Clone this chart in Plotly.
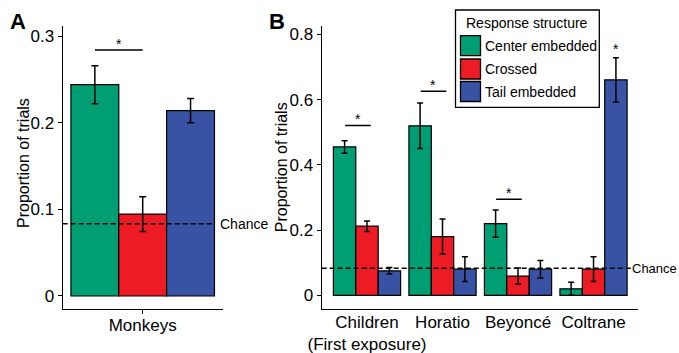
import plotly.graph_objects as go

W, H = 679, 353

# ---------------- data ----------------
series_names = ["Center embedded", "Crossed", "Tail embedded"]
series_colors = ["#009E73", "#ED1C24", "#3953A4"]

monkey_category = ["Monkeys"]
monkey_values = [0.244, 0.0946, 0.214]
monkey_errors = [0.022, 0.020, 0.014]

groups_b = ["Children<br>(First exposure)", "Horatio", "Beyoncé", "Coltrane"]
center_values = [0.455, 0.52, 0.22, 0.02]
center_errors = [0.019, 0.07, 0.042, 0.02]
crossed_values = [0.212, 0.18, 0.059, 0.08]
crossed_errors = [0.016, 0.054, 0.025, 0.038]
tail_values = [0.075, 0.08, 0.08, 0.661]
tail_errors = [0.010, 0.038, 0.027, 0.068]

chance_level = 1 / 12

yticks_a = [0, 0.1, 0.2, 0.3]
yticks_b = [0, 0.2, 0.4, 0.6, 0.8]

sig_a_height = 0.284
sig_b_groups = [0, 1, 2]
sig_b_heights = [0.521, 0.626, 0.295]
sig_star_coltrane = 0.7626

FONT = "Liberation Sans, Arial, sans-serif"

def px_x(p):
    return p / W

def px_y(p):
    return 1 - p / H

fig = go.Figure()

b_values = [center_values, crossed_values, tail_values]
b_errors = [center_errors, crossed_errors, tail_errors]

for i, name in enumerate(series_names):
    fig.add_trace(go.Bar(
        x=monkey_category, y=[monkey_values[i]], name=name,
        marker=dict(color=series_colors[i], line=dict(color="black", width=1.2)),
        error_y=dict(type="data", array=[monkey_errors[i]], color="black",
                     thickness=1.5, width=3.5),
        xaxis="x", yaxis="y", offsetgroup=str(i), showlegend=False,
    ))
    fig.add_trace(go.Bar(
        x=groups_b, y=b_values[i], name=name,
        marker=dict(color=series_colors[i], line=dict(color="black", width=1.2)),
        error_y=dict(type="data", array=b_errors[i], color="black",
                     thickness=1.5, width=3),
        xaxis="x2", yaxis="y2", offsetgroup=str(i), showlegend=False,
    ))

ydom = [px_y(308.8), px_y(25.5)]
axis_common = dict(showline=True, linecolor="black", linewidth=1.3,
                   ticklen=4, tickwidth=1.3, tickcolor="black",
                   showgrid=False, zeroline=False, automargin=False,
                   tickfont=dict(family=FONT, size=17, color="black"))

fig.update_layout(
    width=W, height=H,
    margin=dict(l=0, r=0, t=0, b=0, autoexpand=False),
    paper_bgcolor="white", plot_bgcolor="white",
    barmode="group", bargap=0.11, bargroupgap=0,
    showlegend=False,
    font=dict(family=FONT, color="black"),
    xaxis=dict(domain=[px_x(62.7), px_x(222.7)], anchor="y", tickangle=0,
               ticks="outside", ticklabelstandoff=-3,
               type="category", range=[-0.496, 0.496], **axis_common),
    yaxis=dict(domain=ydom, anchor="x", range=[-0.0148, 0.3124], ticks="outside",
               tickvals=yticks_a, ticktext=[f"{v:g}" for v in yticks_a], **axis_common),
    xaxis2=dict(domain=[px_x(321.7), px_x(638.3)], anchor="y2", tickangle=0,
                ticks="", ticklabelstandoff=-2,
                type="category", range=[-0.6, 3.593], **axis_common),
    yaxis2=dict(domain=ydom, anchor="x2", range=[-0.0414, 0.8276], ticks="outside",
                tickvals=yticks_b, ticktext=[f"{v:g}" for v in yticks_b], **axis_common),
)

shapes = []
annotations = []

# chance lines
shapes.append(dict(type="line", xref="x", yref="y", x0=-0.496, x1=0.445,
                   y0=chance_level, y1=chance_level,
                   line=dict(color="black", width=1.5, dash="5px,3px")))
annotations.append(dict(xref="x", yref="y", x=0.465, y=chance_level, text="Chance",
                        showarrow=False, xanchor="left", yanchor="middle",
                        font=dict(family=FONT, size=14, color="black")))
shapes.append(dict(type="line", xref="x2", yref="y2", x0=-0.6, x1=3.5,
                   y0=chance_level, y1=chance_level,
                   line=dict(color="black", width=1.5, dash="5px,3px")))
annotations.append(dict(xref="x2", yref="y2", x=3.5, y=chance_level, text="Chance",
                        showarrow=False, xanchor="left", yanchor="middle",
                        xshift=-1, font=dict(family=FONT, size=13, color="black")))

# significance markers
star_font = dict(family=FONT, size=14, color="black")
shapes.append(dict(type="line", xref="x", yref="y", x0=-0.296, x1=0.0,
                   y0=sig_a_height, y1=sig_a_height, line=dict(color="black", width=1.5)))
annotations.append(dict(xref="x", yref="y", x=-0.148, y=sig_a_height, text="*",
                        showarrow=False, yanchor="bottom", yshift=-4, font=star_font))
for g, h in zip(sig_b_groups, sig_b_heights):
    shapes.append(dict(type="line", xref="x2", yref="y2", x0=g - 0.29, x1=g + 0.05,
                       y0=h, y1=h, line=dict(color="black", width=1.5)))
    annotations.append(dict(xref="x2", yref="y2", x=g - 0.12, y=h, text="*",
                            showarrow=False, yanchor="bottom", yshift=-4, font=star_font))
annotations.append(dict(xref="x2", yref="y2", x=3 + 0.2967, y=sig_star_coltrane, text="*",
                        showarrow=False, yanchor="middle", yshift=-2, font=star_font))

# panel letters
for letter, cx in [("A", 18.3), ("B", 276.5)]:
    annotations.append(dict(xref="paper", yref="paper", x=px_x(cx), y=px_y(21.3),
                            text=f"<b>{letter}</b>", showarrow=False,
                            xanchor="center", yanchor="middle",
                            font=dict(family=FONT, size=22, color="black")))

# y-axis titles
for cx, cy in [(23.3, 162.7), (281.7, 167.5)]:
    annotations.append(dict(xref="paper", yref="paper", x=px_x(cx), y=px_y(cy),
                            text="Proportion of trials", textangle=-90, showarrow=False,
                            xanchor="center", yanchor="middle",
                            font=dict(family=FONT, size=16, color="black")))

# legend (manual, sized like the reference)
shapes.append(dict(type="rect", xref="paper", yref="paper",
                   x0=px_x(455.5), x1=px_x(599.3), y0=px_y(107.3), y1=px_y(10),
                   line=dict(color="black", width=1.3), fillcolor="white", layer="above"))
annotations.append(dict(xref="paper", yref="paper", x=px_x(527.2), y=px_y(23.3),
                        text="Response structure", showarrow=False,
                        xanchor="center", yanchor="middle",
                        font=dict(family=FONT, size=14, color="black")))
sw_top = [35.7, 59.0, 81.5]
for i, name in enumerate(series_names):
    shapes.append(dict(type="rect", xref="paper", yref="paper",
                       x0=px_x(460.5), x1=px_x(480.5),
                       y0=px_y(sw_top[i] + 20), y1=px_y(sw_top[i]),
                       line=dict(color="black", width=1.3),
                       fillcolor=series_colors[i], layer="above"))
    annotations.append(dict(xref="paper", yref="paper", x=px_x(483.3),
                            y=px_y(sw_top[i] + 10), text=name, showarrow=False,
                            xanchor="left", yanchor="middle",
                            font=dict(family=FONT, size=14, color="black")))

fig.update_layout(shapes=shapes, annotations=annotations)
fig.write_html("out.html")
